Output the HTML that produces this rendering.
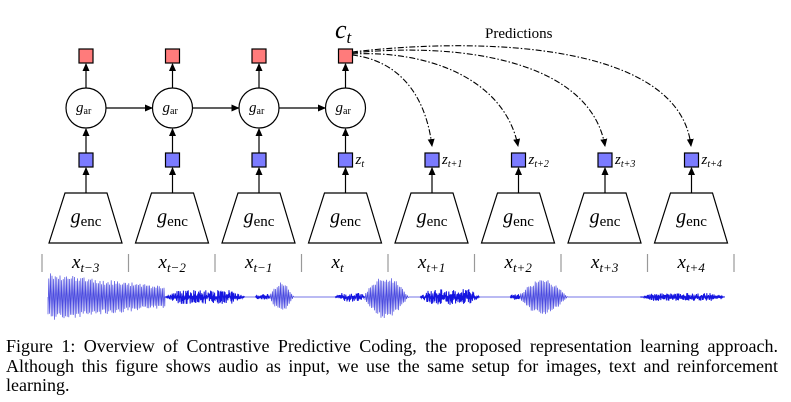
<!DOCTYPE html>
<html><head><meta charset="utf-8"><style>
body{margin:0;background:#fff;width:791px;height:402px;overflow:hidden}
.cap{position:absolute;left:6px;top:337px;width:772px;font:18px/19.5px "Liberation Serif",serif;color:#000;text-align:justify}
</style></head><body>
<svg width="791" height="402" style="position:absolute;left:0;top:0" font-family="Liberation Serif, serif">
<defs><marker id="a" markerWidth="8" markerHeight="8" refX="7" refY="4" orient="auto" markerUnits="userSpaceOnUse"><path d="M0,0.5 L8,4 L0,7.5z" fill="#000"/></marker></defs>
<g id="cols" stroke="#000" stroke-width="1.2"></g>
<g fill="none" stroke="#000" stroke-width="1.1" stroke-dasharray="6,2,1.5,2">
<path d="M352,55 C395,60 425,90 432,146" marker-end="url(#a)"/>
<path d="M352,54 C430,50 505,80 518,146" marker-end="url(#a)"/>
<path d="M352,53 C460,42 590,60 605,146" marker-end="url(#a)"/>
<path d="M352,52 C490,36 680,45 691,146" marker-end="url(#a)"/>
</g>
<text x="485" y="38" font-size="15">Predictions</text>
<text x="335" y="38" font-size="26" font-style="italic">c<tspan font-size="17" dy="5">t</tspan></text>
<path id="wave" fill="none" stroke="#4a4ae0" stroke-width="0.7"/>
<path id="wave2" fill="none" stroke="#1515e0" stroke-width="1"/>
</svg>
<div class="cap">Figure 1: Overview of Contrastive Predictive Coding, the proposed representation learning approach. Although this figure shows audio as input, we use the same setup for images, text and reinforcement learning.</div>
<script>
var g=document.getElementById('cols'),s='';
var subs=['t−3','t−2','t−1','t','t+1','t+2','t+3','t+4'];
for(var i=0;i<8;i++){var c=86+i*86.5;
if(i<4){s+='<rect x="'+(c-7)+'" y="49" width="14" height="14" fill="#ff7b7b"/>';
s+='<circle cx="'+c+'" cy="108" r="20" fill="#fff"/>';
s+='<line x1="'+c+'" y1="88" x2="'+c+'" y2="64" marker-end="url(#a)"/>';
s+='<line x1="'+c+'" y1="153" x2="'+c+'" y2="129" marker-end="url(#a)"/>';
s+='<text x="'+(c-10)+'" y="112" font-size="15" font-style="italic" stroke="none">g<tspan font-size="10" font-style="normal" dy="2">ar</tspan></text>';
if(i<3)s+='<line x1="'+(c+20)+'" y1="108" x2="'+(c+66)+'" y2="108" marker-end="url(#a)"/>';}
s+='<rect x="'+(c-7)+'" y="153" width="14" height="14" fill="#7b7bff"/>';
s+='<line x1="'+c+'" y1="193" x2="'+c+'" y2="168" marker-end="url(#a)"/>';
s+='<path d="M'+(c-21)+',193 L'+(c+21)+',193 L'+(c+36)+',243 L'+(c-37)+',243z" fill="#fff"/>';
s+='<text x="'+c+'" y="223" text-anchor="middle" font-size="20" stroke="none"><tspan font-style="italic">g</tspan><tspan font-size="15" dy="3">enc</tspan></text>';
if(i>=3)s+='<text x="'+(c+10)+'" y="164" font-size="15" font-style="italic" stroke="none">z<tspan font-size="10" dy="3">'+subs[i]+'</tspan></text>';
s+='<text x="'+(c-14)+'" y="268" font-size="19" font-style="italic" stroke="none">x<tspan font-size="13" dy="4">'+subs[i]+'</tspan></text>';
}
for(var i=0;i<9;i++){var x=42+i*86.5;s+='<line x1="'+x+'" y1="254" x2="'+x+'" y2="272" stroke="#999"/>';}
g.innerHTML=s;
var segs=[[48,165,'o',24],[165,245,'n',7],[245,255,'f',0],[255,270,'n',3],[270,300,'o',15],[300,335,'f',0],[335,365,'n',5],[365,420,'o',22],[420,480,'n',8],[480,510,'f',0],[510,520,'n',3],[520,580,'o',18],[580,640,'f',0],[640,725,'n',4]];
var d='M48,297',d2='',cy=297,k=0;
segs.forEach(function(q){var dd='M'+q[0]+','+cy;for(var x=q[0];x<q[1];x+=(q[2]=='n'?0.4:0.8)){k++;var t=(x-q[0])/(q[1]-q[0]),a=q[3],y;
if(q[2]=='o'){var env=q[0]==48?(1-0.55*t):Math.sin(Math.PI*Math.min(1,t*1.2+0.05));y=cy+a*env*(k%2?1:-1)*(0.7+0.3*Math.random());}
else if(q[2]=='n'){var e=Math.min(1,t*6,(1-t)*6);y=cy+a*e*(k%2?1:-1)*Math.random();}else y=cy;
if(q[2]=='n')dd+=' L'+x.toFixed(1)+','+y.toFixed(1);
d+=' L'+x.toFixed(1)+','+(q[2]=='n'?cy:y).toFixed(1);}
if(q[2]=='n')d2+=dd;});
document.getElementById('wave').setAttribute('d',d);
document.getElementById('wave2').setAttribute('d',d2);
</script>
</body></html>
